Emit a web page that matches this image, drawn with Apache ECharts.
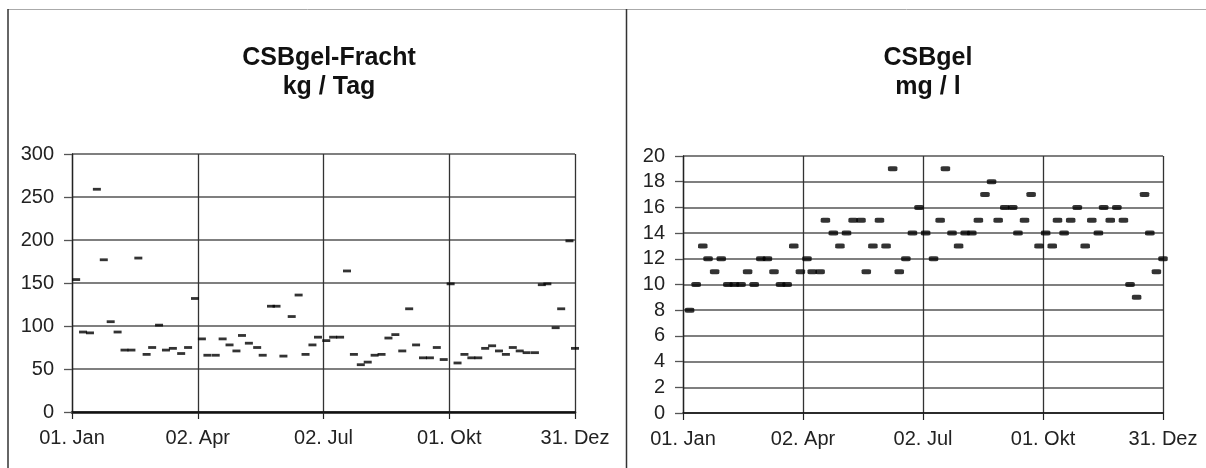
<!DOCTYPE html>
<html>
<head>
<meta charset="utf-8">
<script src="https://cdn.jsdelivr.net/npm/echarts@6/dist/echarts.min.js"></script>
<style>
html,body{margin:0;padding:0;background:#fff;}
#c{width:1206px;height:468px;}
</style>
</head>
<body>
<div id="c"></div>
<script>
// Day of year (0 = 01. Jan) and values
const frachtDays = [3,8,13,18,23,28,33,38,43,48,54,58,63,68,73,79,84,89,94,98,104,109,114,119,123,128,134,138,144,148,153,159,164,169,174,178,184,189,194,199,204,209,214,219,224,229,234,239,244,249,254,259,264,269,274,279,284,289,294,299,304,309,314,319,324,329,335,340,344,350,354,360,364];
const frachtValues = [154,93,92,259,177,105,93,72,72,179,67,75,101,72,74,68,75,132,85,66,66,85,78,71,89,80,75,66,123,123,65,111,136,67,78,87,83,87,87,164,67,55,58,66,67,86,90,71,120,78,63,63,75,61,149,57,67,63,63,74,77,71,67,75,71,69,69,148,149,98,120,199,74];

const konzDays = [5,10,15,19,24,29,34,39,44,49,54,59,64,69,74,79,84,89,94,98,104,108,114,119,124,129,135,139,144,149,154,159,164,169,174,179,184,190,195,199,204,209,214,219,224,229,234,239,244,250,254,259,264,270,275,280,284,289,294,299,305,310,315,319,324,329,334,339,344,350,354,359,364];
const konzValues = [8,10,13,12,11,12,10,10,10,11,10,12,12,11,10,10,13,11,12,11,11,15,14,13,14,15,15,11,13,15,13,19,11,12,14,16,14,12,15,19,14,13,14,14,15,17,18,15,16,16,14,15,17,13,14,13,15,14,15,16,13,15,14,16,15,16,15,10,9,17,14,11,12];

const xTickDays = [0,91,182,273,364];
const xTickLabels = ['01. Jan','02. Apr','02. Jul','01. Okt','31. Dez'];

const titleLeft = 'CSBgel-Fracht\nkg / Tag';
const titleRight = 'CSBgel\nmg / l';

const FONT = 'Liberation Sans, Arial, sans-serif';

function xFmt(v){
  const i = xTickDays.indexOf(Math.round(v));
  return i >= 0 ? xTickLabels[i] : '';
}

function xAxisCfg(gridIndex, lineW){
  return {
    type:'value', gridIndex, min:0, max:364, interval:91,
    axisLine:{show:true, onZero:false, lineStyle:{color:'#111', width:lineW}},
    axisTick:{show:true, length:7, lineStyle:{color:'#222', width:1.2}},
    axisLabel:{formatter:xFmt, fontSize:20, color:'#222', fontFamily:FONT, margin:16, showMaxLabel:true, showMinLabel:true},
    splitLine:{show:true, lineStyle:{color:'#333', width:1.3}}
  };
}
function yAxisCfg(gridIndex, max, interval){
  return {
    type:'value', gridIndex, min:0, max, interval,
    axisLine:{show:true, lineStyle:{color:'#222', width:1.3}},
    axisTick:{show:true, length:8, lineStyle:{color:'#555', width:1.3}},
    axisLabel:{fontSize:20, color:'#222', fontFamily:FONT, margin:18},
    splitLine:{show:true, lineStyle:{color:'#555', width:1.5}}
  };
}

const chart = echarts.init(document.getElementById('c'), null, {renderer:'canvas'});
chart.setOption({
  animation:false,
  backgroundColor:'#fff',
  title:[
    {text:titleLeft, left:324, top:39, textAlign:'center',
     textStyle:{fontSize:25, fontWeight:'bold', color:'#111', fontFamily:FONT, lineHeight:29}},
    {text:titleRight, left:923, top:39, textAlign:'center',
     textStyle:{fontSize:25, fontWeight:'bold', color:'#111', fontFamily:FONT, lineHeight:29}}
  ],
  grid:[
    {left:72, right:631, top:154, bottom:56},
    {left:683, right:43, top:156, bottom:55}
  ],
  xAxis:[xAxisCfg(0, 2.6), xAxisCfg(1, 1.5)],
  yAxis:[yAxisCfg(0, 300, 50), yAxisCfg(1, 20, 2)],
  series:[
    {type:'scatter', xAxisIndex:0, yAxisIndex:0,
     data:frachtDays.map((d,i)=>[d, frachtValues[i]]),
     symbol:'rect', symbolSize:[8,2.8], itemStyle:{color:'#000'}},
    {type:'scatter', xAxisIndex:1, yAxisIndex:1,
     data:konzDays.map((d,i)=>[d, konzValues[i]]),
     symbol:'roundRect', symbolSize:[9.5,5], itemStyle:{color:'#000'}}
  ],
  graphic:[
    {type:'line', shape:{x1:8, y1:9.5, x2:1206, y2:9.5}, style:{stroke:'#aaa', lineWidth:1}},
    {type:'line', shape:{x1:8, y1:9, x2:8, y2:468}, style:{stroke:'#333', lineWidth:1.5}},
    {type:'line', shape:{x1:626.5, y1:9, x2:626.5, y2:468}, style:{stroke:'#333', lineWidth:1.5}}
  ]
});
</script>
</body>
</html>
